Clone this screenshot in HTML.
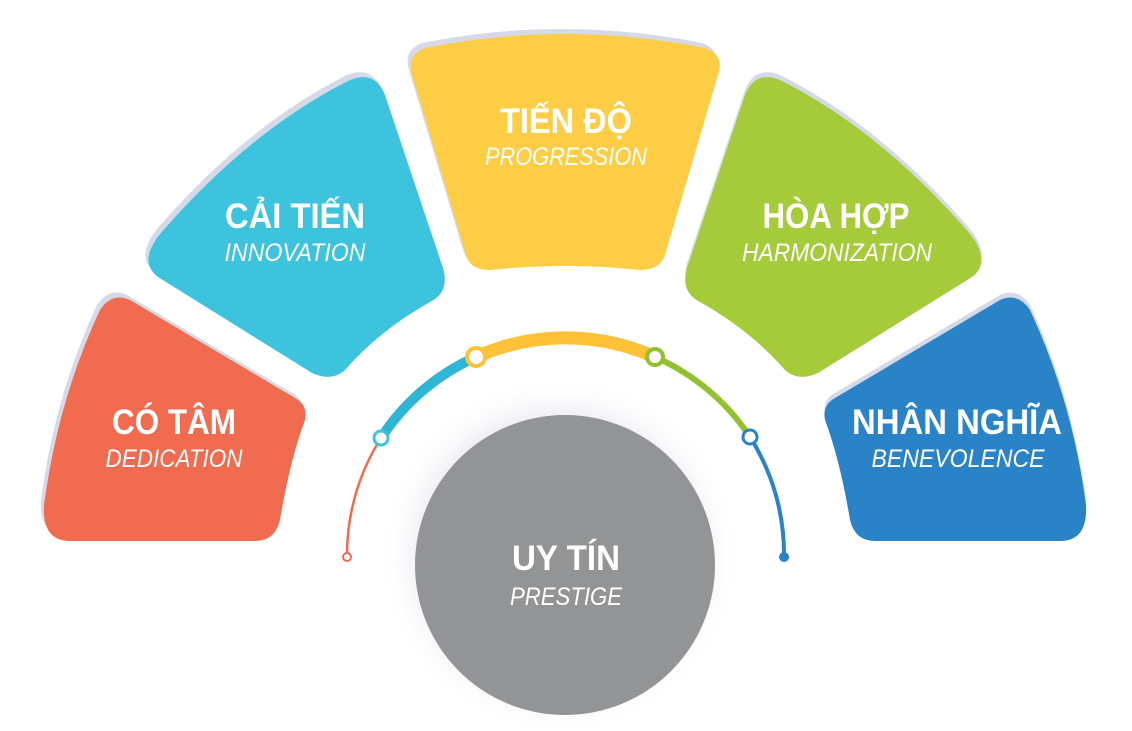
<!DOCTYPE html>
<html><head><meta charset="utf-8"><style>
html,body{margin:0;padding:0;background:#fff;}
svg{display:block}
.h{font-family:"Liberation Sans","DejaVu Sans",sans-serif;font-weight:bold;font-size:35px;fill:#fff;text-anchor:middle}
.s{font-family:"Liberation Sans","DejaVu Sans",sans-serif;font-style:italic;font-size:25px;fill:#fff;text-anchor:middle}
</style></head><body>
<svg width="1132" height="731" viewBox="0 0 1132 731">
<defs>
<radialGradient id="g" cx="0.5" cy="0.5" r="0.5">
<stop offset="0.6" stop-color="#c9cbdc" stop-opacity="0.9"/>
<stop offset="1" stop-color="#fff" stop-opacity="0"/>
</radialGradient>
<path id="or" d="M 70,541 L 255,541 Q 275,541 280,520 Q 290,460 305,420 Q 308,405 295,398 L 130,300 Q 112,292 100,310 Q 58,400 44,505 Q 42,541 70,541 Z"/>
<path id="cy" d="M 160,234 Q 250,130 350,80 Q 375,70 385,95 L 443,268 Q 450,292 430,302 Q 380,330 345,370 Q 332,382 312,373 L 158,277 Q 138,262 160,234 Z"/>
<path id="ye" d="M 425,48 Q 565,20 705,48 Q 725,55 718,75 L 665,255 Q 660,270 640,270 Q 565,262 490,270 Q 470,270 466,255 L 412,75 Q 406,55 425,48 Z"/>
</defs>
<g fill="#d6d9e7" transform="translate(-3,-5)">
<use href="#or"/><use href="#cy"/><use href="#ye"/>
<g transform="translate(1133,0) scale(-1,1)"><use href="#or"/><use href="#cy"/></g>
</g>
<use href="#or" fill="#f06b50"/>
<use href="#cy" fill="#3ec3de"/>
<use href="#ye" fill="#fdcd45"/>
<g transform="translate(1130,0) scale(-1,1)">
<use href="#or" fill="#2a83c7"/>
<use href="#cy" fill="#a5ca3a"/>
</g>
<g fill="none" stroke-linecap="round">
<path d="M 347,557 A 219 219 0 0 1 381,438" stroke="#f06b50" stroke-width="2.5"/>
<path d="M 381,438 A 219 219 0 0 1 476,357" stroke="#2fb5d6" stroke-width="10"/>
<path d="M 476,357 A 219 219 0 0 1 655,357" stroke="#fdc237" stroke-width="13"/>
<path d="M 655,357 A 219 219 0 0 1 750,437" stroke="#93c02f" stroke-width="6"/>
<path d="M 750,437 A 219 219 0 0 1 784,557" stroke="#2a83c7" stroke-width="4"/>
</g>
<circle cx="347" cy="557" r="4" fill="#fff" stroke="#f06b50" stroke-width="2"/>
<circle cx="784" cy="557" r="5" fill="#2a83c7"/>
<circle cx="381" cy="438" r="7" fill="#fff" stroke="#3ec3de" stroke-width="3"/>
<circle cx="476" cy="357" r="9" fill="#fff" stroke="#fdc237" stroke-width="4"/>
<circle cx="655" cy="357" r="8" fill="#fff" stroke="#93c02f" stroke-width="4"/>
<circle cx="750" cy="437" r="7" fill="#fff" stroke="#2a83c7" stroke-width="3"/>
<circle cx="560" cy="555" r="180" fill="url(#g)"/>
<circle cx="565" cy="565" r="150" fill="#939496"/>
<text class="h" x="174" y="434" textLength="124" lengthAdjust="spacingAndGlyphs">CÓ TÂM</text>
<text class="s" x="174" y="467" textLength="137" lengthAdjust="spacingAndGlyphs">DEDICATION</text>
<text class="h" x="295" y="228" textLength="140" lengthAdjust="spacingAndGlyphs">CẢI TIẾN</text>
<text class="s" x="295" y="261" textLength="141" lengthAdjust="spacingAndGlyphs">INNOVATION</text>
<text class="h" x="566" y="133" textLength="132" lengthAdjust="spacingAndGlyphs">TIẾN ĐỘ</text>
<text class="s" x="566" y="165" textLength="162" lengthAdjust="spacingAndGlyphs">PROGRESSION</text>
<text class="h" x="836" y="228" textLength="147" lengthAdjust="spacingAndGlyphs">HÒA HỢP</text>
<text class="s" x="837" y="261" textLength="190" lengthAdjust="spacingAndGlyphs">HARMONIZATION</text>
<text class="h" x="957" y="434" textLength="210" lengthAdjust="spacingAndGlyphs">NHÂN NGHĨA</text>
<text class="s" x="958" y="467" textLength="173" lengthAdjust="spacingAndGlyphs">BENEVOLENCE</text>
<text class="h" x="566" y="570" textLength="108" lengthAdjust="spacingAndGlyphs">UY TÍN</text>
<text class="s" x="566" y="605" textLength="112" lengthAdjust="spacingAndGlyphs">PRESTIGE</text>
</svg>
</body></html>
